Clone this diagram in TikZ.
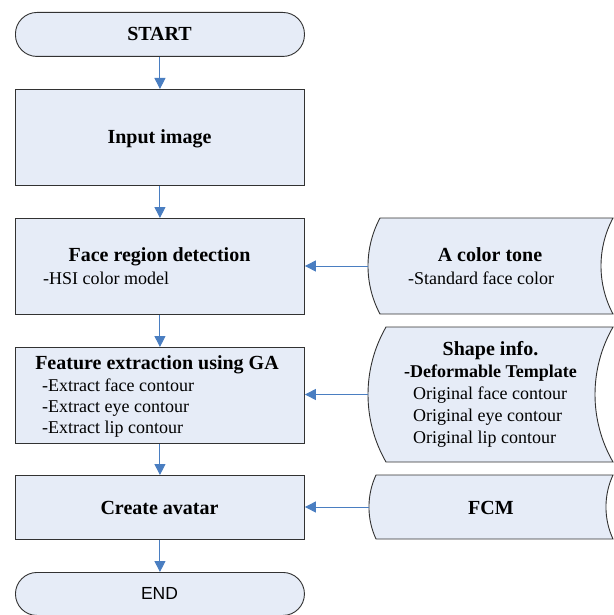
\documentclass[tikz,border=0pt]{standalone}
\usepackage{fontspec}
\setmainfont{Liberation Serif}
\newfontfamily\arialfont{Liberation Sans}
\usetikzlibrary{arrows.meta}
\definecolor{boxfill}{RGB}{230,236,247}
\definecolor{boxline}{RGB}{50,50,50}
\definecolor{arrowblue}{RGB}{74,126,193}
\tikzset{
  procbox/.style={draw=boxline, fill=boxfill, line width=0.9pt, rectangle, inner sep=0pt, anchor=north west},
  termbox/.style={procbox, rounded corners=21.5pt},
  datashape/.style={draw=boxline, fill=boxfill, line width=0.9pt},
  head/.style={font=\fontsize{20}{22}\selectfont\bfseries, anchor=base, inner sep=0pt},
  subhead/.style={font=\fontsize{18}{20}\selectfont\bfseries, anchor=base, inner sep=0pt},
  body/.style={font=\fontsize{18}{20}\selectfont, anchor=base west, inner sep=0pt},
  flow/.style={draw=arrowblue, line width=1pt, -{Triangle[length=11pt,width=11pt]}}
}
\begin{document}
\begin{tikzpicture}[x=1pt,y=-1pt]
\useasboundingbox (0,0) rectangle (613,615);
% left column
\node[termbox, minimum width=289pt, minimum height=44pt] (start) at (15,12) {};
\node[head] (starttxt) at (159.5,40.6) {START};
\node[procbox, minimum width=289pt, minimum height=96pt] (input) at (15,89) {};
\node[head] (inputtxt) at (159.5,143) {Input image};
\node[procbox, minimum width=289pt, minimum height=96pt] (face) at (15,218) {};
\node[head] (facetxt) at (159.5,261) {Face region detection};
\node[body] (hsi) at (43,284) {-HSI color model};
\node[procbox, minimum width=289pt, minimum height=96pt] (feat) at (15,347) {};
\node[head] (feattxt) at (157,369) {Feature extraction using GA};
\node[body] (f1) at (42,391) {-Extract face contour};
\node[body] (f2) at (42,412) {-Extract eye contour};
\node[body] (f3) at (42,433) {-Extract lip contour};
\node[procbox, minimum width=289pt, minimum height=64pt] (avatar) at (15,475) {};
\node[head] (avatartxt) at (159.5,514) {Create avatar};
\node[termbox, minimum width=289pt, minimum height=43pt] (end) at (15,572) {};
\node[font=\arialfont\fontsize{17.5}{20}\selectfont, anchor=base, inner sep=0pt] (endtxt) at (159.5,599.5) {END};
% right column: stored data shapes
\draw[datashape] (380,218) -- (613,218) .. controls (597,248) and (597,284) .. (613,314) -- (380,314) .. controls (364,284) and (364,248) .. (380,218) -- cycle;
\coordinate (tone) at (368,266);
\node[head] (tonetxt) at (490,261) {A color tone};
\node[body] (tone1) at (408,284) {-Standard face color};
\draw[datashape] (386,327) -- (613,327) .. controls (589,368.8) and (589,420.2) .. (613,462) -- (386,462) .. controls (362,420.2) and (362,368.8) .. (386,327) -- cycle;
\coordinate (shape) at (368,394.5);
\node[head] (shapetxt) at (490.5,355) {Shape info.};
\node[subhead] (deform) at (490.5,377) {-Deformable Template};
\node[body] (s1) at (413,399) {Original face contour};
\node[body] (s2) at (413,421) {Original eye contour};
\node[body] (s3) at (413,443) {Original lip contour};
\draw[datashape] (376,475) -- (613,475) .. controls (603.6,495.3) and (603.6,518.7) .. (613,539) -- (376,539) .. controls (366.6,518.7) and (366.6,495.3) .. (376,475) -- cycle;
\coordinate (fcm) at (369,507);
\node[head] (fcmtxt) at (491,514) {FCM};
% connectors
\draw[flow] (start) -- (input);
\draw[flow] (input) -- (face);
\draw[flow] (face) -- (feat);
\draw[flow] (feat) -- (avatar);
\draw[flow] (avatar) -- (end);
\draw[flow] (tone) -- (tone -| face.east);
\draw[flow] (shape) -- (shape -| feat.east);
\draw[flow] (fcm) -- (fcm -| avatar.east);
\end{tikzpicture}
\end{document}
